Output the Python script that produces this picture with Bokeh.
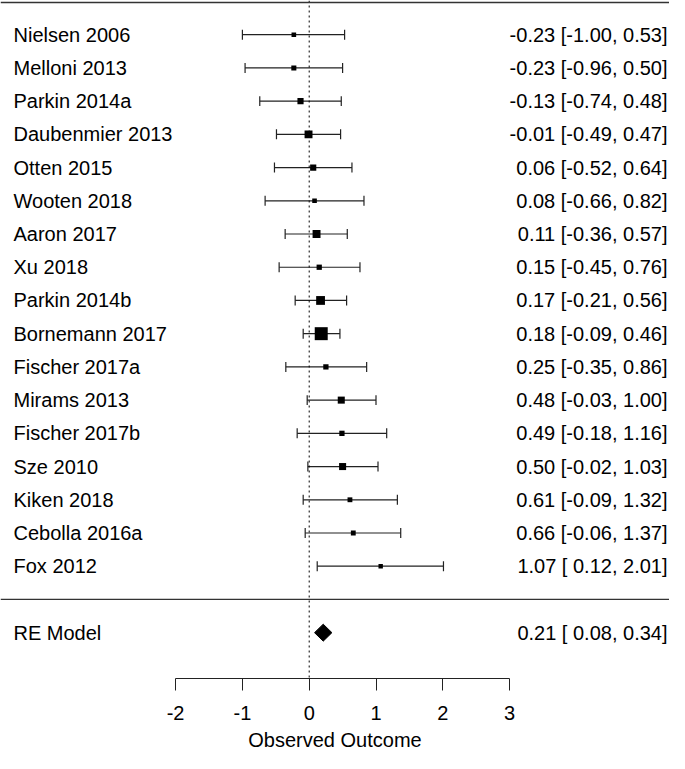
from bokeh.plotting import figure
from bokeh.models import Range1d, FixedTicker, Span, ColumnDataSource
from bokeh.core.properties import value
from bokeh.embed import file_html
from bokeh.resources import INLINE

# ---- data -------------------------------------------------------------
studies = ["Nielsen 2006", "Melloni 2013", "Parkin 2014a", "Daubenmier 2013",
           "Otten 2015", "Wooten 2018", "Aaron 2017", "Xu 2018", "Parkin 2014b",
           "Bornemann 2017", "Fischer 2017a", "Mirams 2013", "Fischer 2017b",
           "Sze 2010", "Kiken 2018", "Cebolla 2016a", "Fox 2012"]
est = [-0.23, -0.23, -0.13, -0.01, 0.06, 0.08, 0.11, 0.15, 0.17, 0.18,
       0.25, 0.48, 0.49, 0.50, 0.61, 0.66, 1.07]
ci_lo = [-1.00, -0.96, -0.74, -0.49, -0.52, -0.66, -0.36, -0.45, -0.21, -0.09,
         -0.35, -0.03, -0.18, -0.02, -0.09, -0.06, 0.12]
ci_hi = [0.53, 0.50, 0.48, 0.47, 0.64, 0.82, 0.57, 0.76, 0.56, 0.46,
         0.86, 1.00, 1.16, 1.03, 1.32, 1.37, 2.01]
psize = [1.05, 1.15, 1.4, 1.8, 1.4, 1.05, 1.8, 1.2, 2.0, 2.95,
         1.2, 1.6, 1.2, 1.6, 1.1, 1.1, 1.0]
re_label = "RE Model"
re_est, re_lo, re_hi = 0.21, 0.08, 0.34
xticks = [-2, -1, 0, 1, 2, 3]
x_label = "Observed Outcome"

# ---- layout ------------------------------------------------------------
W, H_TOTAL = 669, 753
AXIS_Y = 680                # pixel row of the axis line (frame bottom)
px_per_unit = 66.8
x0_px = 308.7               # pixel of x=0
x_start = -x0_px / px_per_unit
x_end = (W - x0_px) / px_per_unit
row17_px = 34.3
row_px = (AXIS_Y - row17_px) / (17 + 2.38)
y_end = 17 + row17_px / row_px
y_start = y_end - AXIS_Y / row_px

k = len(studies)
rows = list(range(k, 0, -1))
FONT = "Liberation Sans"
FS = "20px"

p = figure(width=W, height=H_TOTAL, x_range=Range1d(x_start, x_end),
           y_range=Range1d(y_start, y_end), output_backend="svg",
           toolbar_location=None, y_axis_location=None,
           min_border_left=0, min_border_right=0, min_border_top=0,
           min_border_bottom=H_TOTAL - AXIS_Y)
p.outline_line_color = None
p.grid.visible = False
p.background_fill_color = "white"
p.border_fill_color = "white"

ax = p.xaxis[0]
ax.ticker = FixedTicker(ticks=xticks)
ax.major_label_overrides = {t: str(t) for t in xticks}
ax.bounds = (min(xticks), max(xticks))
ax.axis_line_color = "#222222"
ax.major_tick_line_color = "#222222"
ax.major_tick_out = 12
ax.major_tick_in = 0
ax.minor_tick_line_color = None
ax.major_label_text_font = FONT
ax.major_label_text_font_size = FS
ax.major_label_text_color = "black"
ax.major_label_standoff = 15
ax.axis_label = x_label
ax.axis_label_text_font = FONT
ax.axis_label_text_font_size = FS
ax.axis_label_text_font_style = "normal"
ax.axis_label_text_color = "black"
ax.axis_label_standoff = 6

# reference lines
p.add_layout(Span(location=0, dimension="height", line_color="black",
                  line_width=1, line_dash="2 3"))
p.add_layout(Span(location=y_end - 2 / row_px, dimension="width",
                  line_color="#333333", line_width=1.3))
p.add_layout(Span(location=0, dimension="width", line_color="#333333",
                  line_width=1.3))

# confidence intervals
cap = 5 / row_px
src = ColumnDataSource(dict(
    row=rows, est=est, lo=ci_lo, hi=ci_hi,
    cap_lo=[r - cap for r in rows], cap_hi=[r + cap for r in rows],
    size=[s * 4.4 for s in psize],
    name=studies,
    lab=[f"{e:.2f} [{l:5.2f}, {h:4.2f}]" for e, l, h in zip(est, ci_lo, ci_hi)],
))
p.segment(x0="lo", y0="row", x1="hi", y1="row", source=src,
          line_color="#222222", line_width=1.2)
p.segment(x0="lo", y0="cap_lo", x1="lo", y1="cap_hi", source=src,
          line_color="#222222", line_width=1.2)
p.segment(x0="hi", y0="cap_lo", x1="hi", y1="cap_hi", source=src,
          line_color="#222222", line_width=1.2)
p.scatter(x="est", y="row", size="size", marker="square", source=src,
          fill_color="black", line_color="black", line_width=0)

# summary diamond
d_h = 8.5 / row_px
p.patch([re_lo, re_est, re_hi, re_est], [-1, -1 + d_h, -1, -1 - d_h],
        fill_color="black", line_color="black", line_width=1)

# text columns
left_x = (13 - x0_px) / px_per_unit
right_x = (667 - x0_px) / px_per_unit
p.text(x=left_x, y="row", text="name", source=src, text_font=value(FONT),
       text_font_size=FS, text_align="left", text_baseline="middle",
       text_color="black")
p.text(x=right_x, y="row", text="lab", source=src, text_font=value(FONT),
       text_font_size=FS, text_align="right", text_baseline="middle",
       text_color="black")
p.text(x=[left_x], y=[-1], text=[re_label], text_font=value(FONT),
       text_font_size=FS, text_align="left", text_baseline="middle",
       text_color="black")
p.text(x=[right_x], y=[-1],
       text=[f"{re_est:.2f} [{re_lo:5.2f}, {re_hi:4.2f}]"],
       text_font=value(FONT), text_font_size=FS, text_align="right",
       text_baseline="middle", text_color="black")

open("out.html", "w").write(file_html(p, INLINE))
